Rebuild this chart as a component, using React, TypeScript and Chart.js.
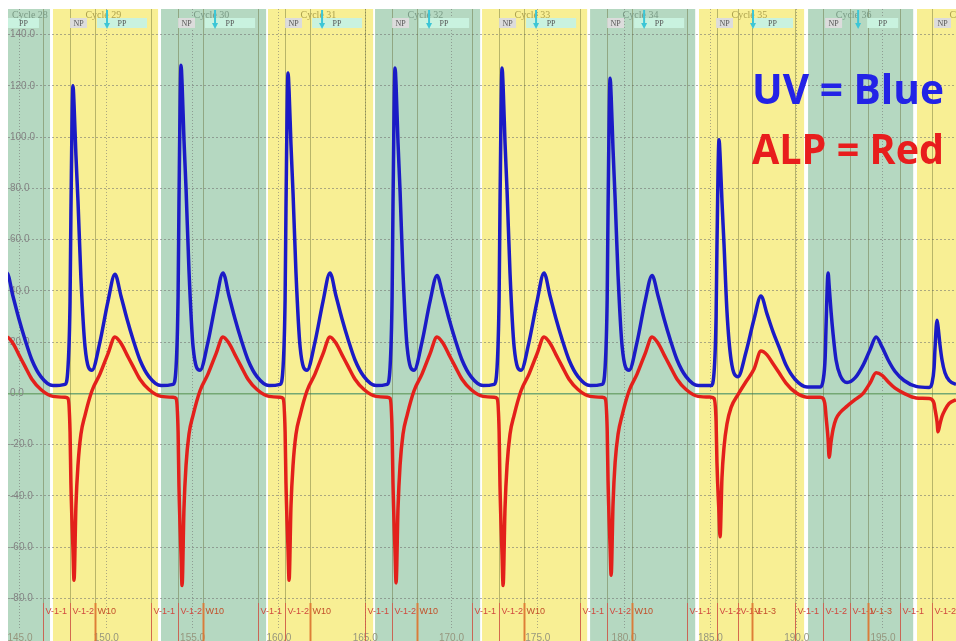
import React, { useEffect, useRef } from 'react';
import { Chart, registerables } from 'chart.js';

Chart.register(...registerables);

// ---------------- data ----------------
// time (x axis units) of every sampled point, grouped by cycle
const times = [
  // cycle 28 (tail)
  143.37, 143.84, 144.24, 144.59, 144.94, 145.29, 145.69, 146.21, 146.91,
  // cycle 29
  147.61, 147.78, 147.90, 147.95, 148.07, 148.13, 148.24, 148.36, 148.53, 148.77,
  149.17, 149.63, 150.10, 150.50, 150.85, 151.20, 151.55, 151.95, 152.47, 153.17,
  // cycle 30
  153.87, 154.04, 154.16, 154.21, 154.33, 154.39, 154.50, 154.62, 154.79, 155.03,
  155.43, 155.89, 156.36, 156.76, 157.11, 157.46, 157.81, 158.21, 158.73, 159.43,
  // cycle 31
  160.07, 160.24, 160.36, 160.41, 160.53, 160.59, 160.70, 160.82, 160.99, 161.23,
  161.63, 162.09, 162.56, 162.96, 163.31, 163.66, 164.01, 164.41, 164.93, 165.63,
  // cycle 32
  166.27, 166.44, 166.56, 166.61, 166.73, 166.79, 166.90, 167.02, 167.19, 167.43,
  167.83, 168.29, 168.76, 169.16, 169.51, 169.86, 170.21, 170.61, 171.13, 171.83,
  // cycle 33
  172.47, 172.64, 172.76, 172.81, 172.93, 172.99, 173.10, 173.22, 173.39, 173.63,
  174.03, 174.49, 174.96, 175.36, 175.71, 176.06, 176.41, 176.81, 177.33, 178.03,
  // cycle 34
  178.73, 178.90, 179.02, 179.07, 179.19, 179.25, 179.36, 179.48, 179.65, 179.89,
  180.29, 180.75, 181.22, 181.62, 181.97, 182.32, 182.67, 183.07, 183.59, 184.29,
  // cycle 35
  185.04, 185.21, 185.33, 185.38, 185.50, 185.56, 185.67, 185.79, 185.96, 186.20,
  186.60, 187.06, 187.53, 187.93, 188.28, 188.63, 188.98, 189.38, 189.90, 190.60,
  // cycle 36
  191.36, 191.53, 191.65, 191.70, 191.82, 191.88, 191.99, 192.11, 192.28, 192.52,
  192.92, 193.38, 193.85, 194.25, 194.60, 194.95, 195.30, 195.70, 196.22, 196.92,
  // cycle 37
  197.67, 197.84, 197.96, 198.01, 198.13, 198.19, 198.30, 198.42, 198.59, 198.83,
  199.23, 199.69,
];

// UV signal (blue)
const uvValues = [
  20, 36, 47, 38, 29, 21, 13, 6.5, 3,
  3.5, 10, 36, 70, 120, 113, 93, 75, 45, 18, 9, 20, 36, 46.5, 38, 29, 21, 13, 6.5, 3,
  3.5, 10, 38, 74, 128, 121, 99, 80, 48, 18, 9, 20, 36, 47, 38, 29, 21, 13, 6.5, 3,
  3.5, 10, 37, 72, 125, 118, 97, 78, 47, 18, 9, 20, 36, 47, 38, 29, 21, 13, 6.5, 3,
  3.5, 10, 38, 73, 127, 120, 98, 79, 47, 18, 9, 20, 36, 46, 38, 29, 21, 13, 6.5, 3,
  3.5, 10, 38, 73, 127, 120, 98, 79, 47, 18, 9, 20, 36, 47, 38, 29, 21, 13, 6.5, 3,
  3.5, 10, 37, 71, 123, 116, 95, 76, 46, 18, 9, 20, 36, 46, 38, 29, 21, 13, 6.5, 3,
  3, 8, 30, 57, 99, 93, 75, 58, 32, 13, 6.5, 16, 29, 38, 31, 24, 18, 11, 5.5, 2.5,
  2.5, 5, 14, 26, 47, 42, 32, 23, 13, 7, 4.2, 6, 11, 17, 22, 18, 13, 8.5, 5, 2.7,
  2.3, 4, 10, 17, 28.5, 26, 19, 13, 8, 5, 3.5, 3,
];

// ALP signal (red)
const alpValues = [
  7.5, 15.5, 22, 19.5, 15, 10.5, 5.5, 1.5, -1.2,
  -1.5, -2, -15, -35, -61, -73, -44, -28, -16, -8.5, 1, 7.5, 15.5, 22, 19.5, 15, 10.5, 5.5, 1.5, -1.2,
  -1.5, -2, -15, -36, -63, -75, -45, -28, -16, -8.5, 1, 7.5, 15.5, 22, 19.5, 15, 10.5, 5.5, 1.5, -1.2,
  -1.5, -2, -15, -35, -61, -73, -44, -28, -16, -8.5, 1, 7.5, 15.5, 22, 19.5, 15, 10.5, 5.5, 1.5, -1.2,
  -1.5, -2, -15, -35, -62, -74, -45, -28, -16, -8.5, 1, 7.5, 15.5, 22, 19.5, 15, 10.5, 5.5, 1.5, -1.2,
  -1.5, -2, -15, -36, -63, -75, -45, -28, -16, -8.5, 1, 7.5, 15.5, 22, 19.5, 15, 10.5, 5.5, 1.5, -1.2,
  -1.5, -2, -14, -34, -60, -71, -43, -27, -16, -8.5, 1, 7.5, 15.5, 22, 19.5, 15, 10.5, 5.5, 1.5, -1.2,
  -1.5, -2, -11, -27, -47, -56, -33, -21, -12, -5.5, -0.5, 4.5, 9.5, 16.5, 15, 11.5, 8, 4, 0.5, -1.5,
  -1.5, -2, -5, -9, -18, -25, -19, -14, -10, -7.5, -5, -2.5, 0, 4, 8, 7, 4.5, 2, 0, -1.8,
  -2, -2.5, -4, -6, -11, -15, -12, -9, -6.5, -4, -2.5, -1,
];

const xTickValues = [145, 150, 155, 160, 165, 170, 175, 180, 185, 190, 195];
const yTickValues = [-80, -60, -40, -20, 0, 20, 40, 60, 80, 100, 120, 140];

// cycle bookkeeping (time units)
const cycleLabels = ['Cycle 28', 'Cycle 29', 'Cycle 30', 'Cycle 31', 'Cycle 32', 'Cycle 33', 'Cycle 34', 'Cycle 35', 'Cycle 36', 'Cycle 37'];
const bandStarts = [140.65, 146.91, 153.17, 159.37, 165.57, 171.77, 178.03, 184.34, 190.66, 196.97];
const bandEnds = [146.74, 153.00, 159.26, 165.46, 171.66, 177.86, 184.12, 190.43, 196.75, 203.06];
const npBoxStarts = [141.64, 147.90, 154.16, 160.36, 166.56, 172.76, 179.02, 185.33, 191.65, 197.96];
const npBoxEnds = [142.62, 148.88, 155.14, 161.34, 167.54, 173.74, 180.00, 186.31, 192.63, 198.94];
const ppBoxStarts = [143.20, 149.46, 155.72, 161.92, 168.12, 174.32, 180.58, 187.41, 194.08];
const ppBoxEnds = [146.10, 152.36, 158.62, 164.82, 171.02, 177.22, 183.48, 189.79, 195.88];
const arrowTimes = [150.04, 156.30, 162.50, 168.70, 174.90, 181.16, 187.47, 193.56];
const cycleLabelTimes = [143.57, 149.83, 156.09, 162.29, 168.49, 174.69, 180.95, 187.26, 193.30, 199.89];

const valveTimes = [
  146.33, 147.90, 149.34,
  152.59, 154.16, 155.60,
  158.79, 160.36, 161.80,
  164.99, 166.56, 168.00,
  171.19, 172.76, 174.20,
  177.45, 179.02, 180.46,
  183.65, 185.38, 186.60, 187.41,
  189.91, 191.53, 193.09, 194.14,
  195.99, 197.84,
];
const valveNames = [
  'V-1-1', 'V-1-2', 'W10',
  'V-1-1', 'V-1-2', 'W10',
  'V-1-1', 'V-1-2', 'W10',
  'V-1-1', 'V-1-2', 'W10',
  'V-1-1', 'V-1-2', 'W10',
  'V-1-1', 'V-1-2', 'W10',
  'V-1-1', 'V-1-2', 'V-1-1', 'V-1-3',
  'V-1-1', 'V-1-2', 'V-1-1', 'V-1-3',
  'V-1-1', 'V-1-2',
];

const X_MIN = 144.305;
const X_MAX = 199.23;
const Y_MIN = -92;
const Y_MAX = 150;

// ---------------- styles ----------------
const GREEN = '#b5d8c1';
const YELLOW = '#f8ef94';

const decorPlugin = {
  id: 'decor',
  beforeDraw(chart: any) {
    const { ctx, chartArea } = chart;
    const x = chart.scales.x;
    const H = chart.height;
    const W = chart.width;
    ctx.save();
    ctx.fillStyle = '#ffffff';
    ctx.fillRect(0, 0, W, H);
    ctx.beginPath();
    ctx.rect(chartArea.left, chartArea.top, chartArea.right - chartArea.left, H - chartArea.top);
    ctx.clip();
    for (let i = 0; i < bandStarts.length; i++) {
      const x0 = x.getPixelForValue(bandStarts[i]);
      const x1 = x.getPixelForValue(bandEnds[i]);
      ctx.fillStyle = i % 2 === 0 ? GREEN : YELLOW;
      ctx.fillRect(x0, chartArea.top, x1 - x0, H - chartArea.top);
    }
    ctx.restore();
  },
  beforeDatasetsDraw(chart: any) {
    const { ctx, chartArea } = chart;
    const x = chart.scales.x;
    const H = chart.height;
    ctx.save();
    ctx.beginPath();
    ctx.rect(chartArea.left, chartArea.top, chartArea.right - chartArea.left, H - chartArea.top);
    ctx.clip();
    for (let i = 0; i < valveTimes.length; i++) {
      const px = Math.round(x.getPixelForValue(valveTimes[i])) + 0.5;
      ctx.strokeStyle = 'rgba(95,100,45,0.42)';
      ctx.lineWidth = 1;
      ctx.beginPath();
      ctx.moveTo(px, chartArea.top);
      ctx.lineTo(px, H);
      ctx.stroke();
    }
    ctx.restore();
  },
  afterDatasetsDraw(chart: any) {
    const { ctx, chartArea } = chart;
    const x = chart.scales.x;
    const H = chart.height;
    ctx.save();
    ctx.beginPath();
    ctx.rect(chartArea.left, 0, chartArea.right - chartArea.left, H);
    ctx.clip();

    // bottom valve labels and stubs
    ctx.font = '9px "Liberation Sans", Arial, sans-serif';
    ctx.textBaseline = 'alphabetic';
    ctx.textAlign = 'left';
    for (let i = 0; i < valveTimes.length; i++) {
      const px = Math.round(x.getPixelForValue(valveTimes[i])) + 0.5;
      const name = valveNames[i];
      const strong = name === 'W10' || name === 'V-1-3';
      ctx.strokeStyle = strong ? 'rgba(225,120,50,0.9)' : 'rgba(220,80,70,0.75)';
      ctx.lineWidth = strong ? 2 : 1;
      ctx.beginPath();
      ctx.moveTo(px, 603);
      ctx.lineTo(px, H);
      ctx.stroke();
      ctx.fillStyle = strong ? '#c2502a' : '#d0483e';
      ctx.fillText(name, px + 2, 614);
    }

    // header: NP and PP boxes
    const boxTop = 18;
    const boxH = 10;
    ctx.textAlign = 'center';
    ctx.textBaseline = 'middle';
    ctx.font = '8px "Liberation Serif", serif';
    for (let i = 0; i < npBoxStarts.length; i++) {
      const a = x.getPixelForValue(npBoxStarts[i]);
      const b = x.getPixelForValue(npBoxEnds[i]);
      ctx.fillStyle = '#dcdcdc';
      ctx.fillRect(a, boxTop, b - a, boxH);
      ctx.fillStyle = '#555555';
      ctx.fillText('NP', (a + b) / 2, boxTop + boxH / 2 + 0.5);
    }
    for (let i = 0; i < ppBoxStarts.length; i++) {
      const a = Math.max(x.getPixelForValue(ppBoxStarts[i]), chartArea.left);
      const b = x.getPixelForValue(ppBoxEnds[i]);
      ctx.fillStyle = '#c9f2df';
      ctx.fillRect(a, boxTop, b - a, boxH);
      ctx.fillStyle = '#555555';
      ctx.fillText('PP', (a + b) / 2, boxTop + boxH / 2 + 0.5);
    }

    // cycle labels
    ctx.font = '10px "Liberation Serif", serif';
    ctx.textBaseline = 'alphabetic';
    for (let i = 0; i < cycleLabels.length; i++) {
      const w = ctx.measureText(cycleLabels[i]).width;
      let c = x.getPixelForValue(cycleLabelTimes[i]);
      c = Math.max(c, chartArea.left + w / 2 + 4);
      ctx.fillStyle = i % 2 === 0 ? '#7a9b86' : '#ada24f';
      ctx.fillText(cycleLabels[i], c, 18);
    }

    // cyan arrows
    for (let i = 0; i < arrowTimes.length; i++) {
      const px = x.getPixelForValue(arrowTimes[i]);
      ctx.strokeStyle = '#3cc6d6';
      ctx.lineWidth = 2;
      ctx.beginPath();
      ctx.moveTo(px, chartArea.top + 1);
      ctx.lineTo(px, 25);
      ctx.stroke();
      ctx.fillStyle = '#3cc6d6';
      ctx.beginPath();
      ctx.moveTo(px - 3, 23);
      ctx.lineTo(px + 3, 23);
      ctx.lineTo(px, 29);
      ctx.closePath();
      ctx.fill();
    }
    ctx.restore();

    // legend text
    ctx.save();
    ctx.textAlign = 'left';
    ctx.textBaseline = 'alphabetic';
    ctx.font = 'bold 41px "Open Sans", "Noto Sans", sans-serif';
    ctx.fillStyle = '#2323e6';
    ctx.fillText('UV = Blue', 752, 104, 192);
    ctx.fillStyle = '#e81d1d';
    ctx.fillText('ALP = Red', 752, 164, 192);
    ctx.restore();
  },
};

export default function App() {
  const ref = useRef<HTMLCanvasElement | null>(null);

  useEffect(() => {
    const canvas = ref.current;
    if (!canvas) return;
    const chart = new Chart(canvas, {
      type: 'line',
      data: {
        datasets: [
          {
            label: 'UV',
            data: times.map((t, i) => ({ x: t, y: uvValues[i] })),
            borderColor: '#1b1bc6',
            borderWidth: 3.5,
            pointRadius: 0,
            fill: false,
            cubicInterpolationMode: 'monotone',
          },
          {
            label: 'ALP',
            data: times.map((t, i) => ({ x: t, y: alpValues[i] })),
            borderColor: '#e3201b',
            borderWidth: 3.5,
            pointRadius: 0,
            fill: false,
            cubicInterpolationMode: 'monotone',
          },
        ],
      },
      options: {
        animation: false,
        responsive: false,
        devicePixelRatio: 1,
        events: [],
        layout: { padding: { left: 4, top: 9, right: 0, bottom: 0 } },
        plugins: {
          legend: { display: false },
          tooltip: { enabled: false },
          title: { display: false },
        },
        scales: {
          x: {
            type: 'linear',
            min: X_MIN,
            max: X_MAX,
            afterBuildTicks: (s: any) => {
              s.ticks = xTickValues.map((v) => ({ value: v }));
            },
            afterFit: (s: any) => {
              s.paddingLeft = 0;
              s.paddingRight = 0;
            },
            ticks: {
              autoSkip: false,
              maxRotation: 0,
              padding: 3,
              color: '#96967e',
              font: { size: 10, family: '"Liberation Sans", Arial, sans-serif' },
              callback: (v: any) => Number(v).toFixed(1),
            },
            grid: { color: 'rgba(110,110,110,0.55)', drawTicks: false, lineWidth: 1 },
            border: { display: false, dash: [1, 2] },
          },
          y: {
            type: 'linear',
            min: Y_MIN,
            max: Y_MAX,
            afterBuildTicks: (s: any) => {
              s.ticks = yTickValues.map((v) => ({ value: v }));
            },
            afterFit: (s: any) => {
              s.paddingTop = 0;
              s.paddingBottom = 0;
            },
            ticks: {
              mirror: true,
              padding: 2,
              color: '#848484',
              font: { size: 10, family: '"Liberation Sans", Arial, sans-serif' },
              callback: (v: any) => Number(v).toFixed(1),
            },
            grid: {
              drawTicks: false,
              color: (c: any) => (c.tick && c.tick.value === 0 ? '#74a874' : 'rgba(110,110,110,0.55)'),
              lineWidth: (c: any) => (c.tick && c.tick.value === 0 ? 1.5 : 1),
            },
            border: {
              display: false,
              dash: (c: any) => (c.tick && c.tick.value === 0 ? [] : [2, 2]),
            },
          },
        },
      },
      plugins: [decorPlugin],
    } as any);
    return () => chart.destroy();
  }, []);

  return (
    <div style={{ position: 'fixed', left: 0, top: 0, width: 956, height: 641, overflow: 'hidden', background: '#ffffff' }}>
      <canvas ref={ref} width={956} height={647} style={{ display: 'block' }} />
    </div>
  );
}
